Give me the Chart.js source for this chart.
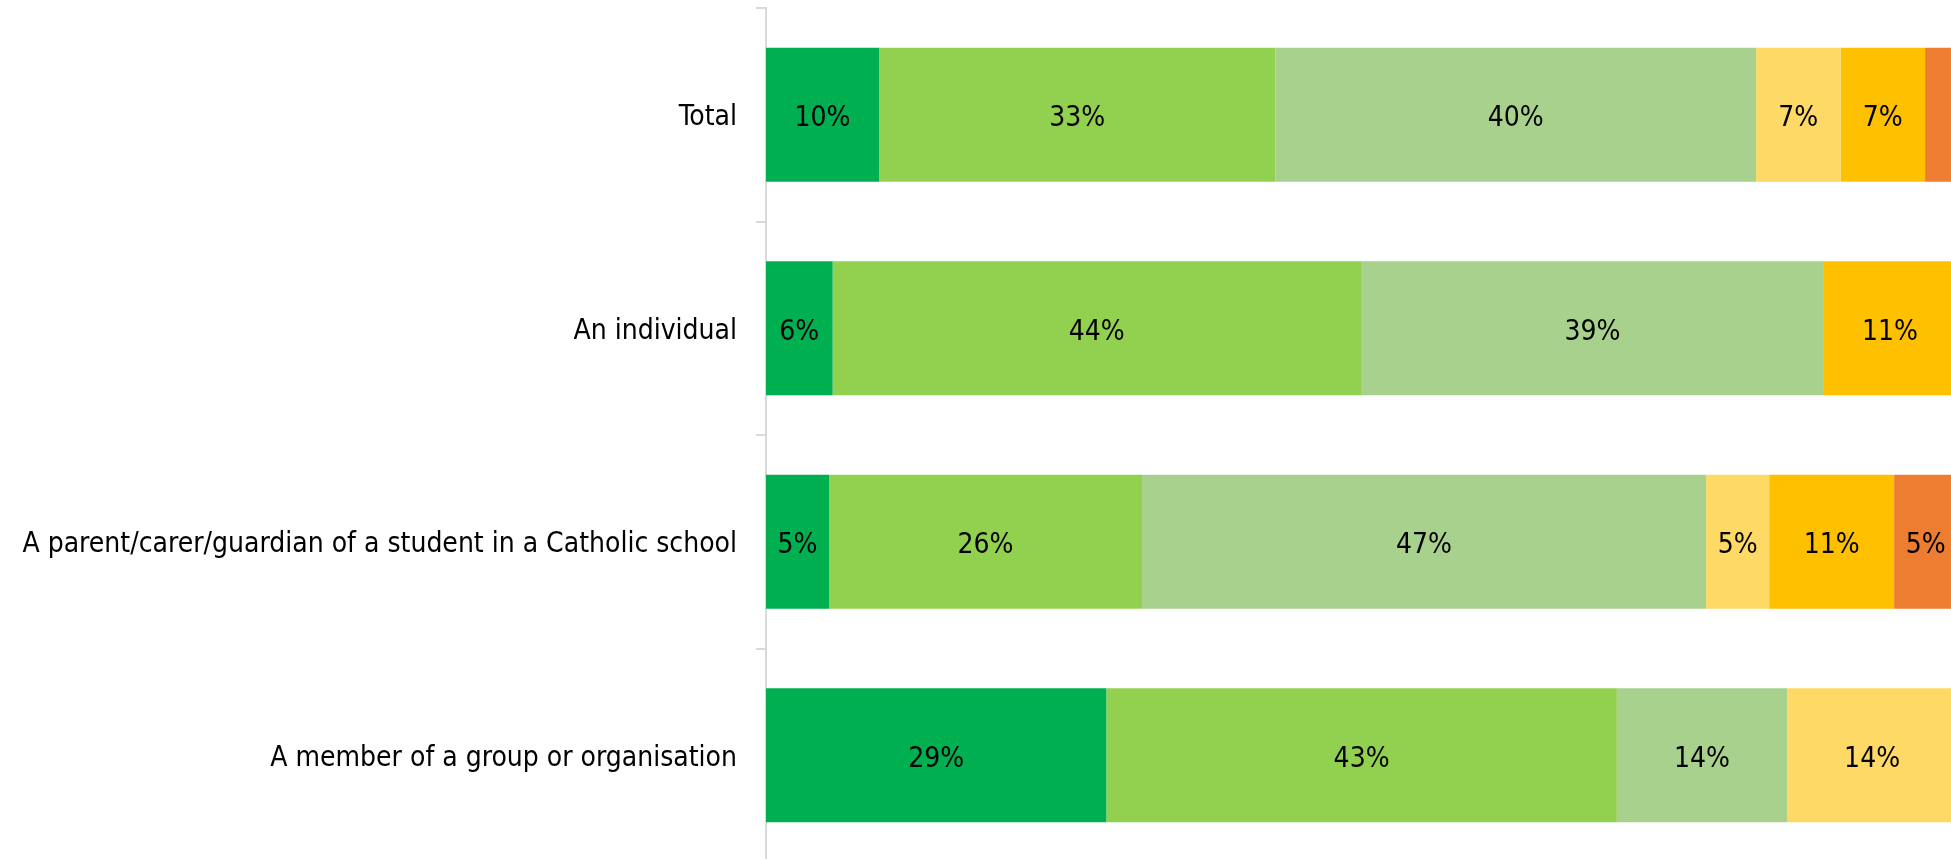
<!DOCTYPE html>
<html>
<head>
<meta charset="utf-8">
<script src="https://cdn.jsdelivr.net/npm/chart.js@4.4.1/dist/chart.umd.min.js"></script>
<style>
    html, body { margin: 0; padding: 0; background: #fff; }
    #wrap { width: 1951px; height: 859px; overflow: hidden; position: relative; }
    #chart { position: absolute; left: 0; top: 0; }
</style>
</head>
<body>
<div id="wrap">
    <canvas id="chart" width="1960" height="870"></canvas>
</div>
<script>
// Categories (top to bottom)
const categories = [
    'Total',
    'An individual',
    'A parent/carer/guardian of a student in a Catholic school',
    'A member of a group or organisation'
];

// Response shares (%), one array per answer option
const stronglyAgree    = [9.5, 5.6, 5.3, 28.6];
const agree            = [33.3, 44.4, 26.3, 42.9];
const somewhatAgree    = [40.4, 38.9, 47.4, 14.3];
const neutral          = [7.1, 0, 5.3, 14.3];
const somewhatDisagree = [7.1, 11.1, 10.5, 0];
const disagree         = [2.4, 0, 5.3, 0];

const seriesNames  = ['Strongly agree', 'Agree', 'Somewhat agree', 'Neutral', 'Somewhat disagree', 'Disagree'];
const seriesValues = [stronglyAgree, agree, somewhatAgree, neutral, somewhatDisagree, disagree];
const seriesColors = ['#00B050', '#92D050', '#A9D18E', '#FFD966', '#FFC000', '#ED7D31'];

const FONT_FAMILY = '"DejaVu Sans Condensed", "Liberation Sans", sans-serif';
const FONT_SIZE = 28;

// Draw the % value in the middle of each segment
const segmentLabels = {
    id: 'segmentLabels',
    afterDatasetsDraw(chart) {
        const ctx = chart.ctx;
        ctx.save();
        ctx.font = `${FONT_SIZE}px ${FONT_FAMILY}`;
        ctx.fillStyle = '#000';
        ctx.textAlign = 'center';
        ctx.textBaseline = 'middle';
        chart.data.datasets.forEach((ds, i) => {
            const meta = chart.getDatasetMeta(i);
            meta.data.forEach((bar, j) => {
                const v = ds.data[j];
                if (v < 3) return; // too thin for a label
                const cx = (bar.x + bar.base) / 2;
                ctx.fillText(Math.round(v) + '%', cx, bar.y + 4);
            });
        });
        ctx.restore();
    }
};

const ctx = document.getElementById('chart').getContext('2d');

new Chart(ctx, {
    type: 'bar',
    data: {
        labels: categories,
        datasets: seriesNames.map((name, i) => ({
            label: name,
            data: seriesValues[i],
            backgroundColor: seriesColors[i],
            borderWidth: 0,
            barPercentage: 0.628,
            categoryPercentage: 1
        }))
    },
    options: {
        indexAxis: 'y',
        responsive: false,
        animation: false,
        devicePixelRatio: 1,
        layout: { padding: { left: 0, right: 4, top: 8, bottom: 8 } },
        plugins: {
            legend: { display: false },
            tooltip: { enabled: false }
        },
        scales: {
            x: {
                stacked: true,
                min: 0,
                max: 100,
                display: false
            },
            y: {
                stacked: true,
                afterFit: (scale) => {
                    scale.width = 766;
                    scale.paddingTop = 0;
                    scale.paddingBottom = 0;
                },
                border: { display: true, color: '#D9D9D9', width: 2 },
                grid: {
                    drawOnChartArea: false,
                    drawTicks: true,
                    tickLength: 10,
                    color: '#D9D9D9',
                    lineWidth: 2
                },
                ticks: {
                    color: '#000',
                    padding: 19,
                    labelOffset: 3,
                    font: { family: FONT_FAMILY, size: FONT_SIZE }
                }
            }
        }
    },
    plugins: [segmentLabels]
});
</script>
</body>
</html>
